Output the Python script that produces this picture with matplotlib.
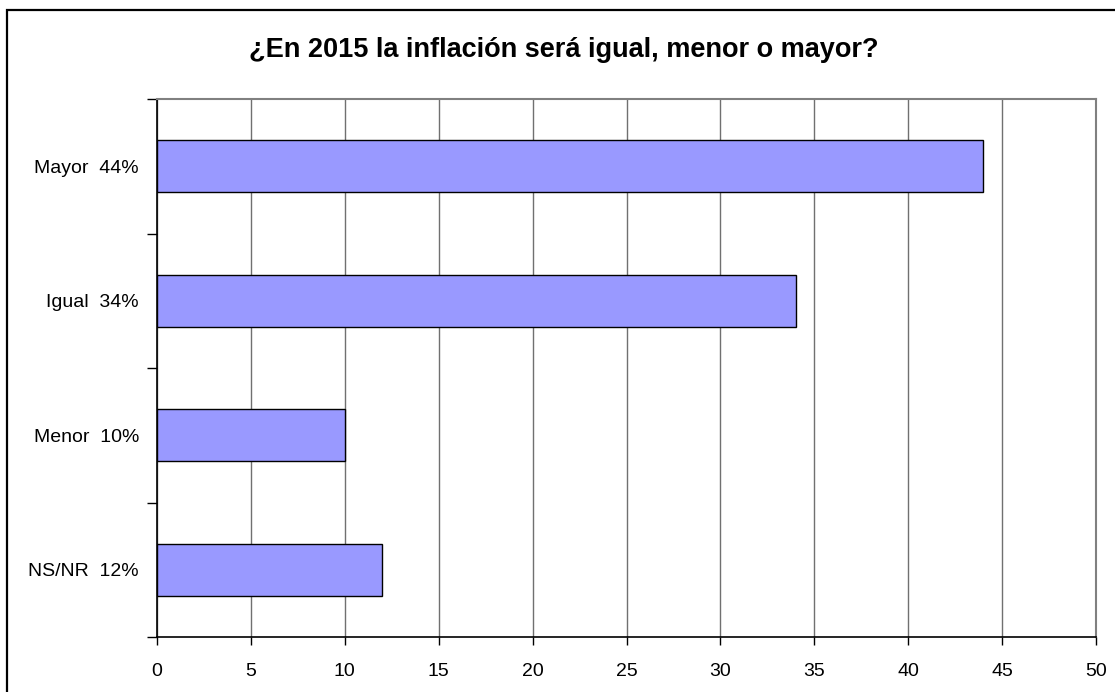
import matplotlib
matplotlib.use("Agg")
import matplotlib.pyplot as plt
from matplotlib.patches import Rectangle

categories = ["Mayor  44%", "Igual  34%", "Menor  10%", "NS/NR  12%"]
values = [44, 34, 10, 12]
x_ticks = [0, 5, 10, 15, 20, 25, 30, 35, 40, 45, 50]
title = "¿En 2015 la inflación será igual, menor o mayor?"

plt.rcParams['font.family'] = ['Liberation Sans', 'DejaVu Sans']

W, H = 1115, 692
fig = plt.figure(figsize=(W / 100, H / 100), dpi=100)

# outer frame
fig.patches.append(Rectangle((7 / W, -0.1), 1.2, (H - 9.5) / H + 0.1,
                             transform=fig.transFigure, fill=False,
                             edgecolor='black', linewidth=1.6, zorder=0))

ax = fig.add_axes([157 / W, (H - 637) / H, (1096 - 157) / W, (637 - 99) / H])

n = len(categories)
ypos = list(range(n))
ax.barh(ypos, values, height=0.39, color='#9999FF', edgecolor='black',
        linewidth=1.0, zorder=3)
ax.set_ylim(n - 0.5, -0.5)
ax.set_xlim(0, 50)

ax.set_xticks(x_ticks)
ax.set_xticklabels([str(t) for t in x_ticks])
ax.tick_params(axis='x', direction='out', length=6, width=1, pad=13,
               labelsize=14, color='black')

# boundary ticks (major) and labels at centers (minor)
ax.set_yticks([i - 0.5 for i in range(n + 1)])
ax.set_yticklabels([])
ax.tick_params(axis='y', which='major', direction='out', length=7, width=1)
ax.set_yticks(ypos, minor=True)
ax.set_yticklabels(categories, minor=True)
ax.tick_params(axis='y', which='minor', length=0, pad=13, labelsize=14)

ax.xaxis.grid(True, color='#707070', linewidth=1.0, zorder=0)
ax.set_axisbelow(True)

for s in ['left', 'bottom']:
    ax.spines[s].set_color('black')
    ax.spines[s].set_linewidth(1.2)
for s in ['top', 'right']:
    ax.spines[s].set_color('#808080')
    ax.spines[s].set_linewidth(1.5)

fig.text(564 / W, (H - 50) / H, title, ha='center', va='center',
         fontsize=19.5, fontweight='bold')

fig.savefig("out.png", dpi=100)
